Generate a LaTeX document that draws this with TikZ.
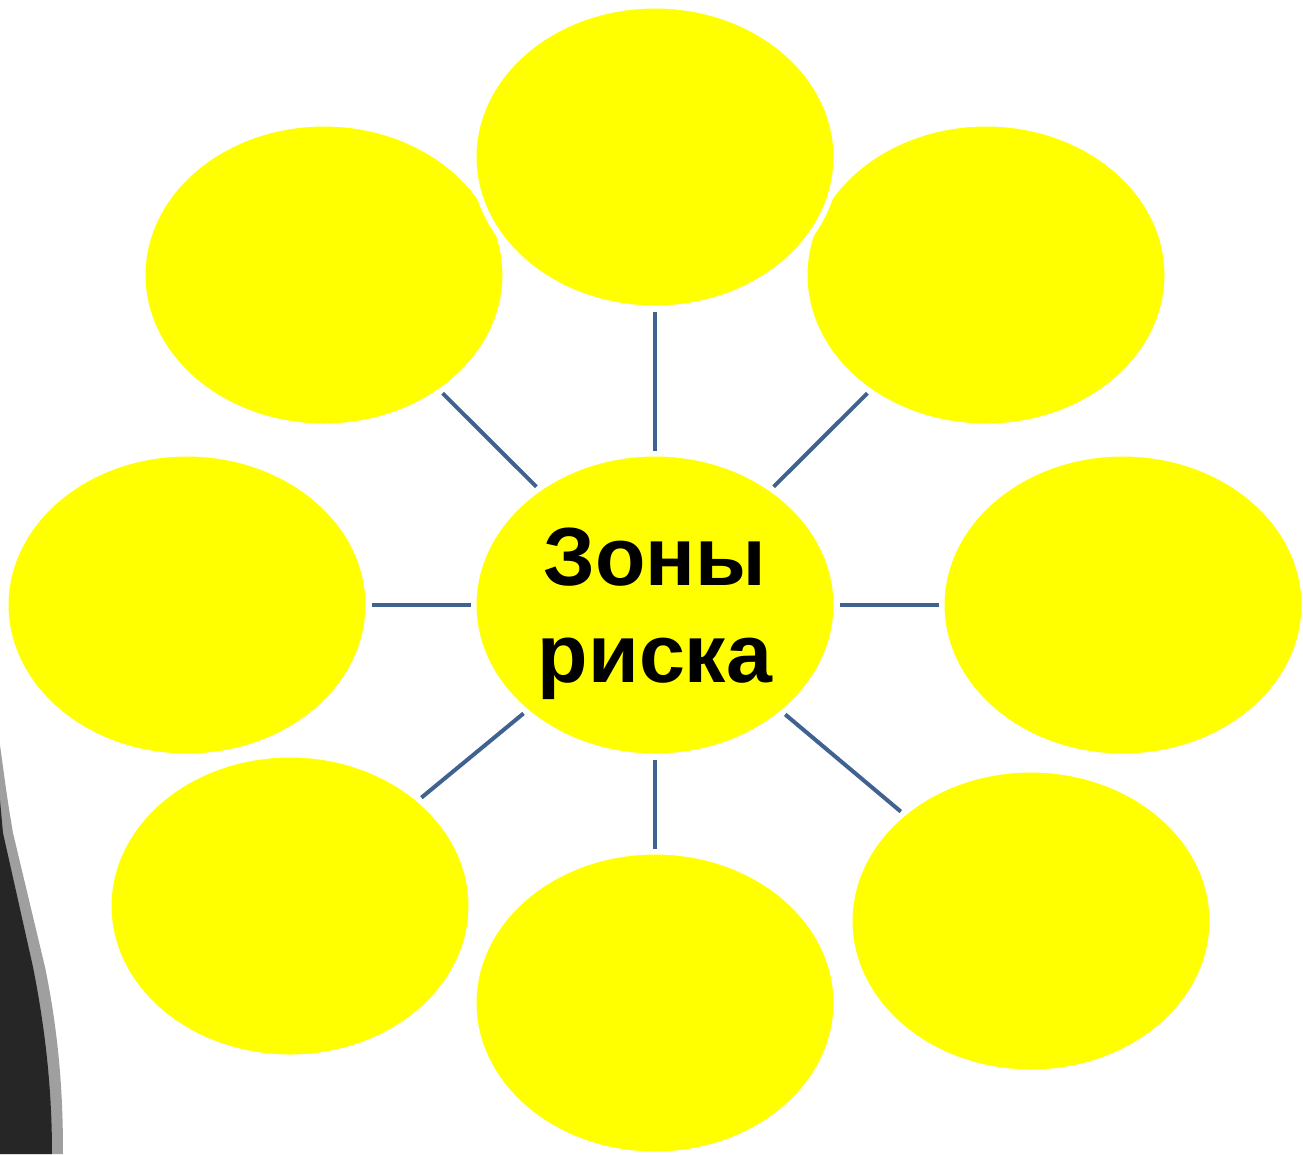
\documentclass[tikz,border=0pt]{standalone}
\usepackage{fontspec}
\setmainfont{Liberation Sans}
\usepackage{xcolor}
\definecolor{amarillo}{RGB}{255, 255, 0}
\definecolor{enlace}{RGB}{64, 98, 145}
\usetikzlibrary{shapes.geometric}

\begin{document}
\begin{tikzpicture}[
  zona/.style={ellipse, fill=amarillo, draw=white, line width=0.12cm, inner sep=0pt, minimum width=7.26cm, minimum height=6.06cm},
  centro/.style={zona, font=\bfseries\fontsize{47}{55}\selectfont, align=center, text depth=0pt},
  lin/.style={enlace, line width=0.08cm}
]
  \useasboundingbox (0,0) rectangle (26.06,-23.08);

  % objeto gris cortado en el borde izquierdo
  \fill[gray!75] (0,-14.9) .. controls (0.15,-16.0) .. (0.26,-16.66) -- (0.9,-19.34) .. controls (1.2,-20.8) and (1.26,-22.0) .. (1.26,-23.08) -- (0,-23.08) -- cycle;
  \fill[black!85] (0,-16.0) -- (0.06,-16.66) -- (0.66,-19.34) .. controls (0.95,-20.8) and (1.04,-22.0) .. (1.04,-23.08) -- (0,-23.08) -- cycle;

  \node[zona] (izqarriba) at (6.48,-5.50) {};
  \node[zona] (derarriba) at (19.72,-5.50) {};
  \node[zona] (arriba) at (13.10,-3.14) {};
  \node[zona] (izq) at (3.74,-12.10) {};
  \node[zona] (der) at (22.46,-12.10) {};
  \node[zona] (izqabajo) at (5.80,-18.12) {};
  \node[zona] (abajo) at (13.10,-20.06) {};
  \node[zona] (derabajo) at (20.62,-18.42) {};
  \node[centro] (zonas) at (13.10,-12.10) {Зоны\\риска};

  \draw[lin] (zonas) -- (arriba);
  \draw[lin] (zonas) -- (izqarriba);
  \draw[lin] (zonas) -- (derarriba);
  \draw[lin] (zonas) -- (izq);
  \draw[lin] (zonas) -- (der);
  \draw[lin] (zonas) -- (izqabajo);
  \draw[lin] (zonas) -- (abajo);
  \draw[lin] (zonas) -- (derabajo);
\end{tikzpicture}
\end{document}
